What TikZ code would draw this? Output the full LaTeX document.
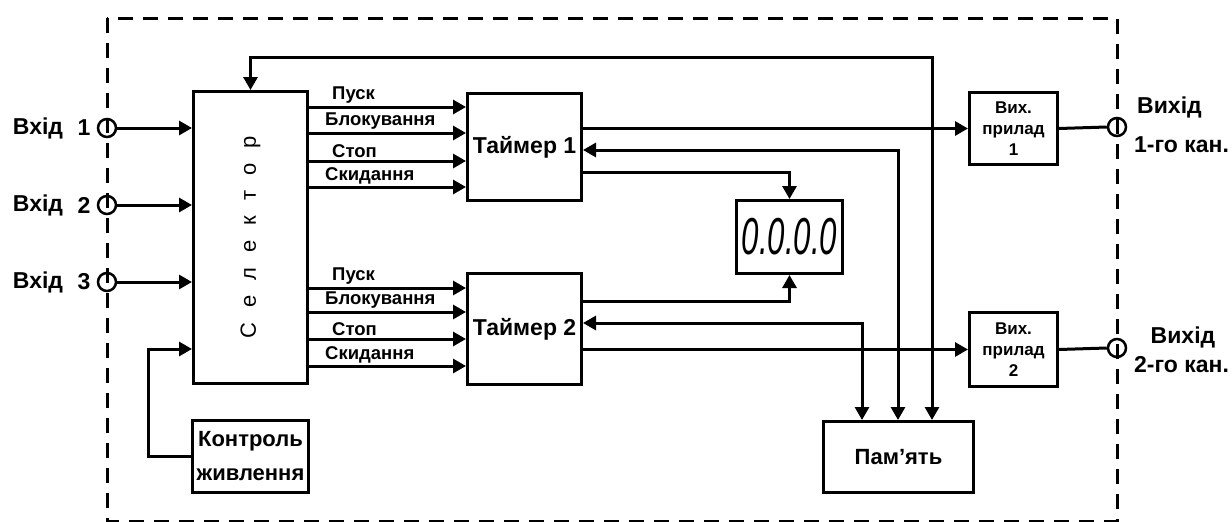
\documentclass[tikz,border=0pt]{standalone}
\usepackage{fontspec}
\setmainfont{Liberation Sans}
\usetikzlibrary{arrows.meta, positioning, calc}
\newcommand{\lgap}{\hspace{15pt}}

\begin{document}
\begin{tikzpicture}[
  x=1pt, y=-1pt,
  blk/.style={draw, line width=3pt, anchor=north west, inner sep=0pt, align=center},
  big/.style={font=\fontsize{23}{24}\selectfont\bfseries, inner sep=0pt},
  sig/.style={font=\fontsize{18.5}{19}\selectfont\bfseries, anchor=south west, inner sep=0pt},
  small/.style={font=\fontsize{17}{21}\selectfont\bfseries},
  jack/.style={draw, circle, line width=2.5pt, minimum size=18pt, inner sep=0pt},
  arr/.style={line width=3pt, -{Triangle[length=13pt, width=14pt]}},
  darr/.style={line width=3pt, {Triangle[length=13pt, width=14pt]}-{Triangle[length=13pt, width=14pt]}},
  wire/.style={line width=3pt}
]
\useasboundingbox (0,0) rectangle (1232,522);
\draw[line width=3pt, dash pattern=on 15pt off 10pt] (107,18) rectangle (1117,521);

\node[blk, minimum width=114pt, minimum height=292pt] (sel) at (192,90) {};
\node[rotate=90, font=\fontsize{22}{24}\selectfont, inner sep=0pt] (sellbl) at (sel.center)
  {С\lgap е\lgap л\lgap е\lgap к\lgap т\lgap о\lgap р};
\node[blk, big, minimum width=114pt, minimum height=107pt] (tim1) at (466,92) {Таймер 1};
\node[blk, big, minimum width=114pt, minimum height=111pt] (tim2) at (466,272) {Таймер 2};
\node[blk, minimum width=106pt, minimum height=73pt] (disp) at (735,199) {};
\node[font=\fontsize{52}{52}\selectfont\itshape, xscale=0.6, inner sep=0pt] (digits) at (disp.center) {0.0.0.0};
\node[blk, small, minimum width=88pt, minimum height=72pt] (out1) at (968,91) {Вих.\\прилад\\1};
\node[blk, small, minimum width=88pt, minimum height=74pt] (out2) at (968,311) {Вих.\\прилад\\2};
\node[blk, font=\fontsize{22}{24}\selectfont\bfseries, minimum width=150pt, minimum height=71pt] (mem) at (822,420) {Пам’ять};
\node[blk, font=\fontsize{22}{34}\selectfont\bfseries, minimum width=116pt, minimum height=72pt] (pwr) at (191,419) {Контроль\\живлення};

\foreach \i/\y in {1/128, 2/205, 3/282} {
  \node[jack] (in\i) at (107,\y) {};
  \node[big] (inlbl\i) at (38,\y) {Вхід};
  \node[big] (innum\i) at (84,\y) {\i};
  \draw[arr] (in\i) -- (in\i -| sel.west);
}
\draw[arr] (pwr.west) -- ++(-43,0) |- (sel.west |- 0,349);

\foreach \y/\x/\txt in {107/332/Пуск, 133/325/Блокування, 161/332/Стоп, 187/325/Скидання} {
  \draw[arr] (sel.east |- 0,\y) -- (tim1.west |- 0,\y);
  \node[sig] (sa\y) at (\x,\y-3) {\txt};
}
\foreach \y/\x/\txt in {288/332/Пуск, 312/325/Блокування, 339/332/Стоп, 366/325/Скидання} {
  \draw[arr] (sel.east |- 0,\y) -- (tim2.west |- 0,\y);
  \node[sig] (sb\y) at (\x,\y-3) {\txt};
}

\coordinate (m1) at ($(mem.north west)+(40,0)$);
\coordinate (m2) at ($(mem.north west)+(76,0)$);
\coordinate (m3) at ($(mem.north west)+(110,0)$);
\draw[arr] (tim1.east |- out1) -- (out1);
\draw[arr] (tim2.east |- out2) -- (out2);
\draw[darr] (m2) |- (tim1.east |- 0,150);
\draw[darr] (m1) |- (tim2.east |- 0,323);
\draw[darr] (m3) |- (sel.north |- 0,57) -- (sel.north);
\draw[arr] (tim1.east |- 0,172) -| (disp.north);
\draw[arr] (tim2.east |- 0,301) -| (disp.south);

\node[jack] (outj1) at (1117,127) {};
\node[jack] (outj2) at (1117,348) {};
\draw[wire] (out1.east) -- (outj1.west);
\draw[wire] (out2.east) -- (outj2.west);
\node[big, anchor=west] (olbl1) at (1137,107) {Вихід};
\node[big, anchor=west] (oname1) at (1134,145) {1-го кан.};
\node[big] (olbl2) at (1183,337) {Вихід};
\node[big, anchor=west] (oname2) at (1134,365) {2-го кан.};
\end{tikzpicture}
\end{document}
